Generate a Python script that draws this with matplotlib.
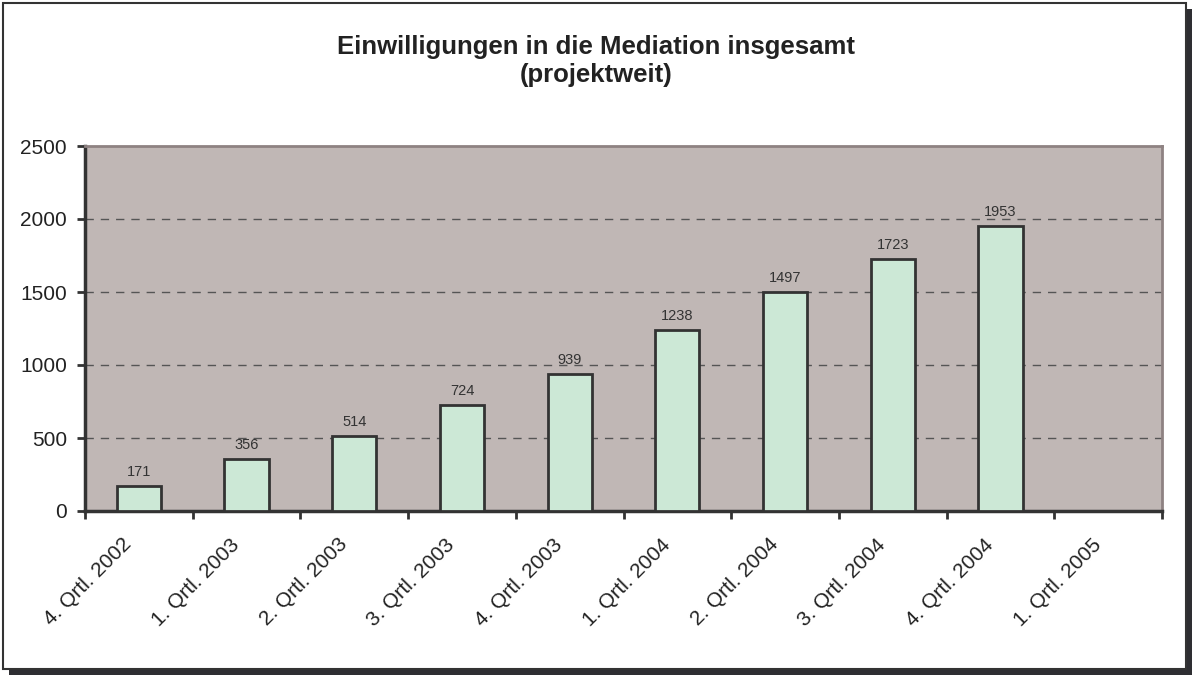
import numpy as np
import matplotlib.pyplot as plt
import matplotlib.transforms as mtransforms
from matplotlib.patches import Rectangle

plt.rcParams['font.family'] = ['Liberation Sans', 'DejaVu Sans']

# Daten
quartale = ["4. Qrtl. 2002", "1. Qrtl. 2003", "2. Qrtl. 2003", "3. Qrtl. 2003",
            "4. Qrtl. 2003", "1. Qrtl. 2004", "2. Qrtl. 2004", "3. Qrtl. 2004",
            "4. Qrtl. 2004", "1. Qrtl. 2005"]
einwilligungen = [171, 356, 514, 724, 939, 1238, 1497, 1723, 1953, None]
y_ticks = [0, 500, 1000, 1500, 2000, 2500]

W, H = 1192, 675
fig = plt.figure(figsize=(W / 100, H / 100), dpi=100)

# Rahmen mit Schatten (Pixelkoordinaten -> Figurkoordinaten)
def px_rect(x0, y0, x1, y1, **kw):
    return Rectangle((x0 / W, 1 - y1 / H), (x1 - x0) / W, (y1 - y0) / H,
                     transform=fig.transFigure, **kw)

fig.patches.append(px_rect(9, 9, 1192, 675, facecolor='#2e2e32', edgecolor='none', zorder=-2))
fig.patches.append(px_rect(3, 3, 1186, 669, facecolor='white', edgecolor='#333333',
                           linewidth=1.5, zorder=-1))

ax = fig.add_axes([85 / W, 1 - 511 / H, (1162 - 85) / W, (511 - 146) / H])
ax.set_facecolor('#c0b7b5')

x = np.arange(len(quartale))
werte = [v if v is not None else 0 for v in einwilligungen]
bars = ax.bar(x, werte, width=0.41, color='#cce8d6', edgecolor='#333333',
              linewidth=2, zorder=3)
for xi, v in zip(x, einwilligungen):
    if v is None:
        continue
    ax.annotate(str(v), (xi, v), xytext=(0, 5), textcoords='offset points',
                ha='center', va='bottom', fontsize=10.5, color='#333333', zorder=4)
# leere Kategorie ohne Balken
bars[-1].set_visible(False)

ax.set_xlim(-0.5, len(quartale) - 0.5)
ax.set_ylim(0, 2500)
ax.set_yticks(y_ticks)
ax.tick_params(axis='y', labelsize=15, length=6, width=2, color='#333333',
               labelcolor='#222222', pad=7)

# Striche zwischen den Kategorien, Beschriftung in der Mitte
ax.set_xticks(x)
ax.set_xticklabels(quartale, rotation=45, ha='right', va='center',
                   rotation_mode='anchor', fontsize=15, color='#222222')
ax.tick_params(axis='x', which='major', length=0, pad=22)
shift = mtransforms.ScaledTranslation(-10 / 100, 0, fig.dpi_scale_trans)
for lbl in ax.get_xticklabels():
    lbl.set_transform(lbl.get_transform() + shift)
ax.set_xticks(np.arange(-0.5, len(quartale)), minor=True)
ax.tick_params(axis='x', which='minor', length=6, width=2, color='#333333')

for yv in y_ticks[1:-1]:
    ax.axhline(yv, color='#555555', linewidth=1, linestyle=(0, (6, 5)), zorder=1)

ax.spines['left'].set_color('#333333')
ax.spines['bottom'].set_color('#333333')
ax.spines['left'].set_linewidth(2.5)
ax.spines['bottom'].set_linewidth(2.5)
ax.spines['top'].set_color('#8e8282')
ax.spines['right'].set_color('#8e8282')
ax.spines['top'].set_linewidth(2)
ax.spines['right'].set_linewidth(2)

fig.text(596 / W, 1 - 61 / H, "Einwilligungen in die Mediation insgesamt\n(projektweit)",
         ha='center', va='center', fontsize=18.5, fontweight='bold', color='#222222',
         linespacing=1.25)

fig.savefig('out.png', dpi=100)
